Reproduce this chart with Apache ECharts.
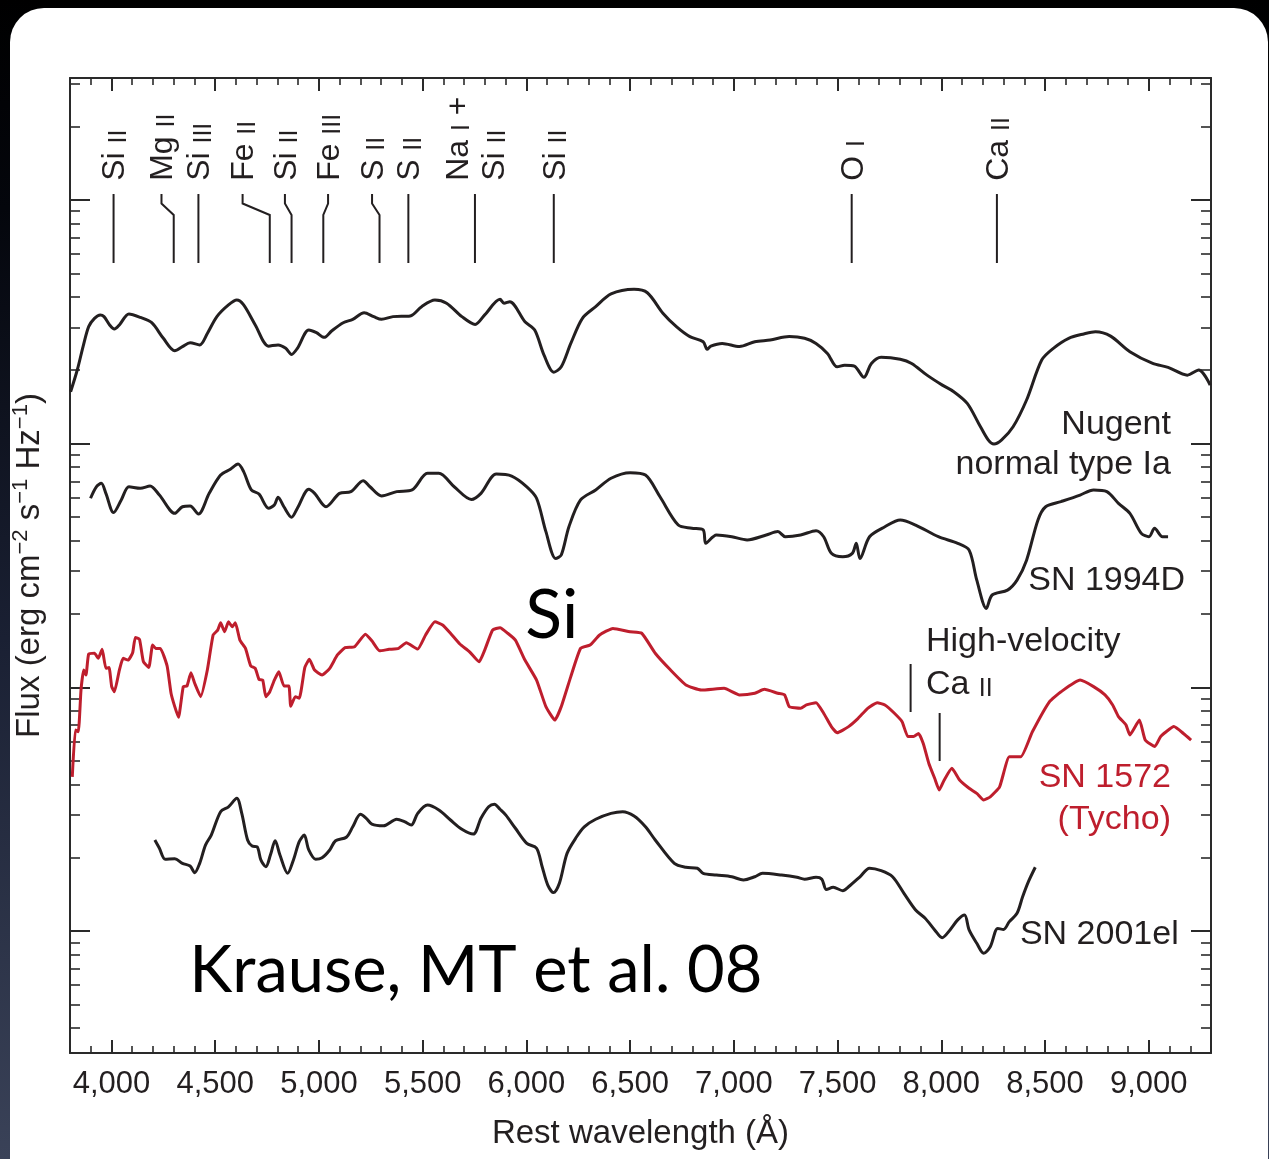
<!DOCTYPE html>
<html>
<head>
<meta charset="utf-8">
<script src="https://cdn.jsdelivr.net/npm/echarts@6/dist/echarts.min.js"></script>
<style>
  html, body { margin:0; padding:0; width:1269px; height:1159px; overflow:hidden;
    background: linear-gradient(to bottom, #000 0%, #04060c 18%, #1a2033 55%, #3a4258 100%); }
  #panel { position:absolute; left:10px; top:8px; width:1258px; height:1200px; background:#fff; border-radius:34px; }
  #chart { position:absolute; left:0; top:0; width:1269px; height:1159px; }
</style>
</head>
<body>
<div id="panel"></div>
<div id="chart"></div>
<script>
// ---------------- DATA (wavelength in Å, log10 flux in arbitrary offset units) ----------------
const wavelengthTicks = [4000, 4500, 5000, 5500, 6000, 6500, 7000, 7500, 8000, 8500, 9000];
const X_MIN = 3800, X_MAX = 9300;
const fluxDecadeDex = [0, 1, 2, 3];           // major (decade) ticks of the log flux axis

const nugent = [[3803,2.213],[3835,2.302],[3863,2.398],[3890,2.480],[3918,2.514],[3946,2.528],[3964,2.521],[3991,2.487],[4014,2.470],[4038,2.487],
[4084,2.532],[4139,2.518],[4194,2.496],[4250,2.432],[4305,2.381],[4342,2.398],[4379,2.414],[4425,2.405],[4462,2.452],[4508,2.521],
[4564,2.569],[4604,2.589],[4637,2.569],[4693,2.487],[4757,2.400],[4803,2.405],[4840,2.391],[4868,2.366],[4896,2.391],[4951,2.466],
[4988,2.455],[5025,2.436],[5061,2.462],[5117,2.496],[5163,2.510],[5218,2.537],[5264,2.521],[5302,2.510],[5357,2.521],[5440,2.524],
[5495,2.562],[5559,2.589],[5615,2.576],[5689,2.521],[5753,2.489],[5799,2.528],[5873,2.592],[5892,2.576],[5920,2.582],[5993,2.500],
[6040,2.466],[6085,2.363],[6132,2.293],[6168,2.315],[6214,2.411],[6270,2.514],[6334,2.562],[6408,2.614],[6519,2.633],[6583,2.619],
[6658,2.535],[6723,2.480],[6788,2.439],[6852,2.418],[6871,2.387],[6889,2.400],[6944,2.411],[7027,2.398],[7101,2.418],[7175,2.425],
[7267,2.439],[7341,2.432],[7396,2.411],[7451,2.370],[7498,2.315],[7534,2.322],[7581,2.318],[7627,2.272],[7663,2.329],[7710,2.354],
[7802,2.346],[7857,2.329],[7931,2.281],[8005,2.240],[8060,2.213],[8125,2.165],[8180,2.083],[8226,2.015],[8254,1.998],[8291,2.015],
[8346,2.069],[8411,2.179],[8484,2.343],[8540,2.391],[8614,2.432],[8687,2.450],[8743,2.459],[8816,2.441],[8909,2.377],[9019,2.329],
[9093,2.313],[9186,2.281],[9241,2.302],[9296,2.240]];

const sn1994D = [[3899,1.776],[3927,1.823],[3951,1.837],[3973,1.796],[4010,1.717],[4047,1.769],[4084,1.823],[4139,1.817],[4186,1.826],[4231,1.789],
[4305,1.714],[4342,1.741],[4379,1.744],[4419,1.711],[4471,1.796],[4526,1.871],[4573,1.895],[4610,1.916],[4637,1.885],[4674,1.810],
[4711,1.793],[4757,1.735],[4785,1.748],[4803,1.780],[4831,1.741],[4868,1.698],[4896,1.735],[4951,1.813],[4979,1.796],[5034,1.741],
[5099,1.796],[5154,1.803],[5213,1.848],[5246,1.823],[5302,1.785],[5375,1.803],[5449,1.810],[5523,1.878],[5578,1.878],[5652,1.823],
[5735,1.771],[5781,1.796],[5855,1.875],[5929,1.867],[6002,1.823],[6049,1.776],[6094,1.639],[6141,1.529],[6168,1.543],[6205,1.659],
[6261,1.769],[6334,1.810],[6408,1.858],[6500,1.881],[6574,1.871],[6644,1.782],[6732,1.666],[6797,1.653],[6852,1.646],[6865,1.591],
[6916,1.625],[6990,1.618],[7064,1.605],[7156,1.625],[7212,1.639],[7248,1.618],[7322,1.625],[7396,1.643],[7433,1.618],[7470,1.550],
[7525,1.536],[7571,1.550],[7590,1.591],[7608,1.529],[7654,1.618],[7728,1.659],[7802,1.687],[7876,1.666],[7986,1.618],[8079,1.591],
[8134,1.563],[8171,1.440],[8217,1.324],[8245,1.379],[8319,1.399],[8365,1.440],[8411,1.522],[8466,1.687],[8503,1.741],[8577,1.762],
[8669,1.789],[8734,1.810],[8798,1.803],[8854,1.755],[8909,1.714],[8964,1.632],[9001,1.618],[9028,1.653],[9066,1.618],[9093,1.618]];

const sn1572Tycho = [[3811,0.633],[3826,0.825],[3840,0.818],[3853,0.989],[3866,1.071],[3877,1.051],[3890,1.137],[3918,1.140],[3936,1.119],[3955,1.156],
[3973,1.078],[3988,1.082],[4001,1.003],[4014,0.982],[4038,1.071],[4056,1.119],[4080,1.112],[4102,1.142],[4115,1.205],[4135,1.197],
[4154,1.105],[4180,1.082],[4198,1.174],[4213,1.160],[4235,1.160],[4268,1.088],[4287,0.976],[4305,0.921],[4323,0.877],[4346,1.003],
[4364,1.006],[4383,1.060],[4401,1.017],[4430,0.962],[4462,1.071],[4490,1.215],[4512,1.235],[4526,1.265],[4545,1.228],[4564,1.269],
[4582,1.249],[4597,1.265],[4619,1.194],[4646,1.160],[4671,1.088],[4693,1.078],[4711,1.033],[4729,1.030],[4744,0.962],[4763,0.982],
[4785,1.030],[4807,1.064],[4831,1.006],[4855,1.006],[4864,0.923],[4886,0.962],[4905,0.955],[4932,1.082],[4954,1.115],[4979,1.071],
[5015,1.051],[5052,1.078],[5089,1.133],[5126,1.163],[5172,1.167],[5224,1.218],[5255,1.191],[5292,1.150],[5338,1.156],[5384,1.160],
[5421,1.183],[5476,1.157],[5514,1.215],[5559,1.269],[5596,1.256],[5634,1.222],[5679,1.178],[5726,1.146],[5772,1.105],[5799,1.153],
[5837,1.235],[5873,1.245],[5910,1.222],[5947,1.194],[5993,1.112],[6049,1.030],[6094,0.921],[6137,0.866],[6168,0.921],[6214,1.044],
[6261,1.160],[6307,1.174],[6353,1.215],[6417,1.242],[6500,1.228],[6556,1.222],[6621,1.140],[6695,1.071],[6769,1.010],[6843,0.989],
[6953,0.996],[7027,0.969],[7101,0.976],[7147,0.992],[7212,0.976],[7245,0.969],[7267,0.921],[7322,0.914],[7350,0.928],[7396,0.937],
[7433,0.894],[7470,0.839],[7498,0.814],[7553,0.839],[7599,0.873],[7645,0.914],[7691,0.937],[7728,0.928],[7774,0.894],[7811,0.859],
[7839,0.798],[7866,0.798],[7890,0.811],[7913,0.770],[7940,0.688],[7968,0.627],[7990,0.579],[8014,0.620],[8051,0.668],[8088,0.620],
[8134,0.586],[8171,0.565],[8204,0.538],[8236,0.551],[8281,0.592],[8328,0.715],[8383,0.715],[8439,0.818],[8521,0.941],[8577,0.982],
[8669,1.030],[8734,1.003],[8789,0.969],[8826,0.928],[8854,0.880],[8890,0.846],[8909,0.805],[8955,0.866],[8983,0.784],[9029,0.757],
[9057,0.798],[9084,0.818],[9121,0.839],[9167,0.811],[9204,0.784]];

const sn2001el = [[4209,0.374],[4231,0.340],[4259,0.295],[4305,0.297],[4342,0.278],[4379,0.267],[4401,0.240],[4425,0.278],[4453,0.353],[4481,0.394],
[4526,0.490],[4564,0.510],[4604,0.545],[4628,0.483],[4656,0.374],[4678,0.349],[4702,0.346],[4720,0.292],[4744,0.264],[4766,0.312],
[4789,0.371],[4812,0.312],[4849,0.237],[4877,0.292],[4905,0.367],[4929,0.394],[4951,0.333],[4984,0.295],[5015,0.301],[5052,0.333],
[5080,0.371],[5132,0.385],[5163,0.428],[5200,0.479],[5228,0.463],[5255,0.439],[5311,0.432],[5375,0.459],[5412,0.449],[5445,0.435],
[5476,0.483],[5523,0.517],[5578,0.497],[5634,0.456],[5689,0.418],[5744,0.398],[5781,0.463],[5818,0.510],[5846,0.521],[5873,0.500],
[5901,0.476],[5947,0.422],[6002,0.360],[6049,0.340],[6076,0.264],[6103,0.189],[6131,0.158],[6159,0.196],[6196,0.319],[6242,0.387],
[6279,0.428],[6334,0.459],[6408,0.483],[6464,0.490],[6519,0.472],[6574,0.428],[6621,0.374],[6713,0.278],[6769,0.262],[6824,0.258],
[6852,0.237],[6916,0.230],[6990,0.223],[7046,0.210],[7101,0.223],[7138,0.237],[7230,0.230],[7304,0.221],[7341,0.213],[7396,0.221],
[7424,0.213],[7446,0.171],[7479,0.180],[7525,0.166],[7553,0.182],[7608,0.223],[7654,0.258],[7710,0.248],[7765,0.223],[7820,0.155],
[7876,0.087],[7922,0.053],[7968,0.005],[8004,-0.027],[8042,0.005],[8079,0.046],[8112,0.066],[8134,0.005],[8171,-0.050],[8204,-0.091],
[8236,-0.064],[8272,0.011],[8300,0.007],[8328,0.039],[8365,0.073],[8392,0.141],[8420,0.203],[8453,0.262]];

// Line identifications (label, wavelength at the label end, wavelength at the spectrum end)
const lineIdLabels = ['Si II','Mg II','Si III','Fe II','Si II','Fe III','S II','S II','Na I +\nSi II','Si II','O I','Ca II'];
const lineIdTopWavelength = [4010,4241,4419,4632,4836,5044,5256,5431,5752,6132,7568,8268];
const lineIdBottomWavelength = [4010,4300,4419,4763,4868,5021,5292,5431,5752,6132,7568,8268];
// High-velocity Ca II markers: [wavelength, upper log flux, lower log flux]
const hvCaMarkers = [[7852, 1.096, 0.899], [7992, 0.895, 0.698]];

// ---------------- STYLE / LAYOUT ----------------
const INK = '#231f20', RED = '#be1e2d', FRAME = '#2a2a2a';
const SANS = '"Liberation Sans", Arial, Helvetica, sans-serif';
const HUMANIST = 'Lato, "Open Sans", sans-serif';
const LINE_ID_LEVELS = { labelBase: 3.078, top: 3.024, kink1: 2.985, kink2: 2.938, bottom: 2.741 };

const annotations = [
  { text: 'Nugent',          at: [9107, 2.080],  align: 'right', fill: INK, size: 34, family: SANS },
  { text: 'normal type Ia',  at: [9107, 1.912],  align: 'right', fill: INK, size: 34, family: SANS },
  { text: 'SN 1994D',        at: [9175, 1.440],  align: 'right', fill: INK, size: 34, family: SANS },
  { text: 'High-velocity',   at: [7926, 1.187],  align: 'left',  fill: INK, size: 34, family: SANS },
  { text: '{el|Ca} {ion|II}',at: [7926, 1.020],  align: 'left',  fill: INK, size: 34, family: SANS },
  { text: 'SN 1572',         at: [9107, 0.628],  align: 'right', fill: RED, size: 34, family: SANS },
  { text: '(Tycho)',         at: [9107, 0.456],  align: 'right', fill: RED, size: 34, family: SANS },
  { text: 'SN 2001el',       at: [8379, -0.014], align: 'left',  fill: INK, size: 34, family: SANS },
  { text: 'Si',              at: [5995, 1.292],  align: 'left',  fill: '#000', size: 68, family: HUMANIST },
  { text: 'Krause, MT et al. 08', at: [4375, -0.165], align: 'left', fill: '#000', size: 65, family: HUMANIST }
];

const RICH = {
  el:  { fontSize: 32, fontFamily: SANS, fill: INK, lineHeight: 36, verticalAlign: 'bottom' },
  ion: { fontSize: 25, fontFamily: SANS, fill: INK, lineHeight: 30, verticalAlign: 'bottom' }
};
function toRich(label) {
  return label.split('\n').map(line => line.split(' ').map(tok =>
    /^[IVX]+$/.test(tok) ? '{ion|' + tok + '}' : '{el|' + tok + '}').join(' ')).join('\n');
}

const wavelengthMinorTicks = [];
for (let v = X_MIN; v <= X_MAX; v += 100) if (v % 500 !== 0) wavelengthMinorTicks.push(v);
const fluxMinorDex = [];
for (let n = -1; n <= 3; n++) for (let k = 2; k <= 9; k++) {
  const v = n + Math.log10(k);
  if (v > -0.5 && v < 3.5) fluxMinorDex.push(v);
}
const toFlux = arr => arr.map(p => [p[0], Math.pow(10, p[1])]);

function xAxisDef(pos, major, withLabels) {
  return {
    type: 'value', position: pos, min: X_MIN, max: X_MAX,
    axisLine: { show: major, onZero: false, lineStyle: { color: FRAME, width: 2 } },
    axisTick: { show: true, inside: true, length: major ? 13 : 7,
      customValues: major ? wavelengthTicks : wavelengthMinorTicks,
      lineStyle: { color: FRAME, width: major ? 2 : 1.6 } },
    axisLabel: withLabels ? { show: true, customValues: wavelengthTicks, margin: 16, fontSize: 31,
      color: INK, fontFamily: SANS, formatter: v => Number(v).toLocaleString('en-US') } : { show: false },
    splitLine: { show: false }
  };
}
function yTickAxis(pos, major) {
  return {
    type: 'value', position: pos, min: -0.5, max: 3.5,
    axisLine: { show: major && pos === 'right', onZero: false, lineStyle: { color: FRAME, width: 2 } },
    axisTick: { show: true, inside: true, length: major ? 20 : 10,
      customValues: major ? fluxDecadeDex : fluxMinorDex,
      lineStyle: { color: FRAME, width: major ? 2 : 1.6 } },
    axisLabel: { show: false }, splitLine: { show: false }
  };
}

function spectrum(name, data, color, smooth) {
  return { name, type: 'line', xAxisIndex: 0, yAxisIndex: 0, data: toFlux(data),
    showSymbol: false, symbol: 'none', silent: true, z: 3, smooth: smooth,
    lineStyle: { color, width: 3, join: 'round' } };
}

const option = {
  animation: false,
  backgroundColor: 'transparent',
  textStyle: { fontFamily: SANS },
  grid: { left: 70, top: 78, width: 1141, height: 975, containLabel: false, outerBoundsMode: 'none' },
  xAxis: [
    Object.assign(xAxisDef('bottom', true, true), {
      name: 'Rest wavelength (Å)', nameLocation: 'middle', nameGap: 64, nameMoveOverlap: false,
      nameTextStyle: { fontSize: 33, color: INK, fontFamily: SANS } }),
    xAxisDef('bottom', false, false),
    xAxisDef('top', true, false),
    xAxisDef('top', false, false)
  ],
  yAxis: [
    { type: 'log', logBase: 10, position: 'left', min: Math.pow(10, -0.5), max: Math.pow(10, 3.5),
      name: 'Flux (erg cm{s|−2} s{s|−1} Hz{s|−1})', nameLocation: 'middle', nameRotate: 90, nameGap: 20,
      nameMoveOverlap: false,
      nameTextStyle: { fontSize: 33, color: INK, fontFamily: SANS, lineHeight: 40,
        rich: { s: { fontSize: 22, color: INK, fontFamily: SANS, verticalAlign: 'top', lineHeight: 22 } } },
      axisLine: { show: true, onZero: false, lineStyle: { color: FRAME, width: 2 } },
      axisTick: { show: false }, axisLabel: { show: false }, splitLine: { show: false } },
    yTickAxis('left', true),
    yTickAxis('left', false),
    yTickAxis('right', true),
    yTickAxis('right', false)
  ],
  series: [
    spectrum('Nugent normal type Ia', nugent, INK, 0.3),
    spectrum('SN 1994D', sn1994D, INK, 0.3),
    spectrum('SN 1572 (Tycho)', sn1572Tycho, RED, 0.15),
    spectrum('SN 2001el', sn2001el, INK, 0.3),
    { type: 'custom', name: 'line ids', xAxisIndex: 0, yAxisIndex: 1, silent: true, clip: false, z: 4,
      data: lineIdTopWavelength.map(w => [w, LINE_ID_LEVELS.top]),
      renderItem: function (params, api) {
        const i = params.dataIndex;
        const lt = lineIdTopWavelength[i], lb = lineIdBottomWavelength[i];
        const pts = [api.coord([lt, LINE_ID_LEVELS.top]), api.coord([lt, LINE_ID_LEVELS.kink1]),
                     api.coord([lb, LINE_ID_LEVELS.kink2]), api.coord([lb, LINE_ID_LEVELS.bottom])];
        const a = api.coord([lt, LINE_ID_LEVELS.labelBase]);
        return { type: 'group', children: [
          { type: 'polyline', shape: { points: pts }, style: { stroke: INK, lineWidth: 2, fill: null } },
          { type: 'text', x: a[0], y: a[1], rotation: Math.PI / 2,
            style: { text: toRich(lineIdLabels[i]), rich: RICH, fontSize: 32, fontFamily: SANS, fill: INK,
              align: 'left', verticalAlign: 'middle', textAlign: 'left', textVerticalAlign: 'middle' } }
        ]};
      } },
    { type: 'custom', name: 'hv markers', xAxisIndex: 0, yAxisIndex: 1, silent: true, clip: false, z: 4,
      data: hvCaMarkers,
      renderItem: function (params, api) {
        const p1 = api.coord([api.value(0), api.value(1)]);
        const p2 = api.coord([api.value(0), api.value(2)]);
        return { type: 'line', shape: { x1: p1[0], y1: p1[1], x2: p2[0], y2: p2[1] },
          style: { stroke: INK, lineWidth: 2 } };
      } },
    { type: 'custom', name: 'annotations', xAxisIndex: 0, yAxisIndex: 1, silent: true, clip: false, z: 5,
      data: annotations.map(a => a.at),
      renderItem: function (params, api) {
        const a = annotations[params.dataIndex];
        const p = api.coord([api.value(0), api.value(1)]);
        return { type: 'text', x: p[0], y: p[1],
          style: { text: a.text, fill: a.fill, fontSize: a.size, fontFamily: a.family,
            rich: { el: { fontSize: 34, fontFamily: SANS, fill: a.fill, lineHeight: 38, verticalAlign: 'bottom' },
                    ion: { fontSize: 25, fontFamily: SANS, fill: a.fill, lineHeight: 30, verticalAlign: 'bottom' } },
            align: a.align, verticalAlign: 'middle', textAlign: a.align, textVerticalAlign: 'middle' } };
      } }
  ]
};

const chart = echarts.init(document.getElementById('chart'), null, { renderer: 'canvas' });
chart.setOption(option);
</script>
</body>
</html>
